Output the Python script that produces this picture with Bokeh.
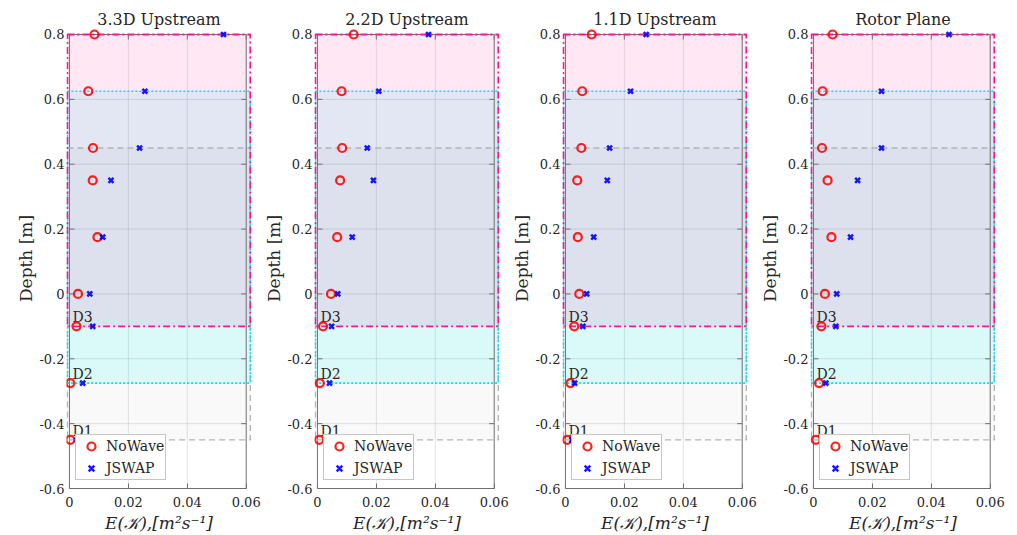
from bokeh.plotting import figure
from bokeh.layouts import row
from bokeh.models import ColumnDataSource, Range1d, LinearAxis, FixedTicker, Legend, LegendItem, Grid
from bokeh.core.properties import value
from bokeh.embed import file_html
from bokeh.resources import INLINE

# ---------------- data ----------------
titles = ["3.3D Upstream", "2.2D Upstream", "1.1D Upstream", "Rotor Plane"]
depth = [0.8, 0.625, 0.45, 0.35, 0.175, 0.0, -0.1, -0.275, -0.45]

nowave_33 = [0.0085, 0.0064, 0.0080, 0.0079, 0.0095, 0.0029, 0.0024, 0.0003, 0.0003]
jswap_33 = [0.0523, 0.0256, 0.0238, 0.0141, 0.0113, 0.0069, 0.0079, 0.0045, 0.0026]
nowave_22 = [0.0123, 0.0082, 0.0084, 0.0077, 0.0067, 0.0046, 0.0019, 0.0008, 0.0006]
jswap_22 = [0.0377, 0.0208, 0.0169, 0.0190, 0.0118, 0.0069, 0.0048, 0.0041, 0.0032]
nowave_11 = [0.0089, 0.0057, 0.0054, 0.0040, 0.0042, 0.0047, 0.0030, 0.0017, 0.0006]
jswap_11 = [0.0274, 0.0221, 0.0150, 0.0142, 0.0096, 0.0072, 0.0059, 0.0031, 0.0022]
nowave_rp = [0.0065, 0.0031, 0.0029, 0.0048, 0.0061, 0.0039, 0.0027, 0.0019, 0.0008]
jswap_rp = [0.0460, 0.0231, 0.0231, 0.0150, 0.0126, 0.0079, 0.0076, 0.0042, 0.0034]

zone_names = ["D3", "D2", "D1"]
zone_bottom = [-0.1, -0.275, -0.45]
zone_top = [0.8, 0.625, 0.45]

x_ticks = [0, 0.02, 0.04, 0.06]
x_tick_labels = ["0", "0.02", "0.04", "0.06"]
y_ticks = [-0.6, -0.4, -0.2, 0, 0.2, 0.4, 0.6, 0.8]
y_tick_labels = ["-0.6", "-0.4", "-0.2", "0", "0.2", "0.4", "0.6", "0.8"]

series_nowave = [nowave_33, nowave_22, nowave_11, nowave_rp]
series_jswap = [jswap_33, jswap_22, jswap_11, jswap_rp]

# ---------------- styles / layout ----------------
FONT = "DejaVu Serif"
TXT = "#262626"
AX = "#707070"
zone_line_colors = ["#FF1493", "#00E5EE", "#B4B4B4"]
zone_fill_colors = ["#FF1493", "#00FFFF", "#808080"]
zone_fill_alpha = [0.1, 0.12, 0.05]
zone_dash = ["7 3 2 3", "2 2", "6 4"]
zone_width = [1.8, 1.6, 1.4]
ZX0, ZX1 = -0.0007, 0.0614

FW, FH = 185, 460
XR = (-0.001, 0.0618)
YR = (-0.6, 0.8185)
TICK = 5  # px
tx = TICK * (XR[1] - XR[0]) / FW
ty = TICK * (YR[1] - YR[0]) / FH
borders_left = [66, 53, 53, 53]
borders_right = [10, 10, 10, 12]


def make_panel(i):
    p = figure(frame_width=FW, frame_height=FH,
               x_range=Range1d(*XR), y_range=Range1d(*YR),
               output_backend="svg", toolbar_location=None,
               title=titles[i], x_axis_location=None, y_axis_location=None,
               min_border_left=borders_left[i], min_border_right=borders_right[i],
               min_border_top=28, min_border_bottom=47)
    p.center = [r for r in p.center if not isinstance(r, Grid)]
    p.outline_line_color = None
    p.background_fill_color = "white"
    p.border_fill_color = "white"
    p.title.text_font = FONT
    p.title.text_font_style = "normal"
    p.title.text_font_size = "16px"
    p.title.text_color = TXT
    p.title.align = "center"
    p.title.standoff = 0

    x0, x1 = x_ticks[0], x_ticks[-1]
    y0, y1 = y_ticks[0], y_ticks[-1]

    left = LinearAxis(ticker=FixedTicker(ticks=y_ticks),
                      major_label_overrides=dict(zip(y_ticks, y_tick_labels)),
                      axis_label="Depth [m]")
    left.axis_line_color = None
    left.major_tick_line_color = None
    left.minor_tick_line_color = None
    left.major_tick_in = 0
    left.major_tick_out = 0
    left.major_label_standoff = 2
    left.major_label_text_font = FONT
    left.major_label_text_font_size = "13px"
    left.major_label_text_color = TXT
    left.axis_label_text_font = FONT
    left.axis_label_text_font_style = "normal"
    left.axis_label_text_font_size = "17px"
    left.axis_label_text_color = TXT
    left.axis_label_standoff = 0
    p.add_layout(left, "left")

    below = LinearAxis(ticker=FixedTicker(ticks=x_ticks), bounds=(x0, x1),
                       major_label_overrides=dict(zip(x_ticks, x_tick_labels)),
                       axis_label="E(\U0001D4A6),[m\u00b2s\u207b\u00b9]")
    below.axis_line_color = AX
    below.major_tick_line_color = AX
    below.minor_tick_line_color = None
    below.major_tick_in = TICK
    below.major_tick_out = 0
    below.major_label_standoff = 8
    below.major_label_text_font = FONT
    below.major_label_text_font_size = "13px"
    below.major_label_text_color = TXT
    below.axis_label_text_font = FONT
    below.axis_label_text_font_style = "italic"
    below.axis_label_text_font_size = "17px"
    below.axis_label_text_color = TXT
    below.axis_label_standoff = 3
    p.add_layout(below, "below")

    # zone fills
    order = [2, 1, 0]
    for k in order:
        p.quad(left=[ZX0], right=[ZX1], bottom=[zone_bottom[k]], top=[zone_top[k]],
               fill_color=zone_fill_colors[k], fill_alpha=zone_fill_alpha[k], line_color=None)

    # grid
    gx = x_ticks[1:-1]
    p.segment(x0=gx, x1=gx, y0=[y0] * len(gx), y1=[y1] * len(gx),
              line_color="#262626", line_alpha=0.12, line_width=1)
    gy = y_ticks[1:-1]
    p.segment(x0=[x0] * len(gy), x1=[x1] * len(gy), y0=gy, y1=gy,
              line_color="#262626", line_alpha=0.12, line_width=1)

    # axes box and inward ticks (left, right, top)
    p.quad(left=[x0], right=[x1], bottom=[y0], top=[y1], fill_color=None,
           line_color=AX, line_width=1)
    p.segment(x0=[x0] * len(y_ticks), x1=[x0 + tx] * len(y_ticks), y0=y_ticks, y1=y_ticks,
              line_color=AX, line_width=1)
    p.segment(x0=[x1 - tx] * len(y_ticks), x1=[x1] * len(y_ticks), y0=y_ticks, y1=y_ticks,
              line_color=AX, line_width=1)
    p.segment(x0=x_ticks, x1=x_ticks, y0=[y1 - ty] * len(x_ticks), y1=[y1] * len(x_ticks),
              line_color=AX, line_width=1)

    # zone outlines
    for k in order:
        p.quad(left=[ZX0], right=[ZX1], bottom=[zone_bottom[k]], top=[zone_top[k]],
               fill_color=None, line_color=zone_line_colors[k], line_dash=zone_dash[k],
               line_width=zone_width[k])

    # zone labels
    p.text(x=[x0] * len(zone_names), y=zone_bottom, text=zone_names,
           x_offset=3, y_offset=-9, text_baseline="alphabetic", text_align="left",
           text_font=value(FONT), text_font_size="14px", text_color=TXT)

    src = ColumnDataSource(dict(depth=depth, nowave=series_nowave[i], jswap=series_jswap[i]))
    r1 = p.scatter("nowave", "depth", source=src, marker="circle", size=8,
                   fill_color=None, line_color="red", line_alpha=0.88, line_width=2.2)
    r2 = p.scatter("jswap", "depth", source=src, marker="x", size=7,
                   line_color="blue", line_alpha=0.9, line_width=2.5)

    legend = Legend(items=[LegendItem(label="NoWave", renderers=[r1]),
                           LegendItem(label="JSWAP", renderers=[r2])],
                    location=(9, 8), padding=1, spacing=2, margin=0,
                    glyph_width=28, glyph_height=20, label_height=20, label_standoff=1,
                    label_text_font=FONT, label_text_font_size="14px", label_text_color=TXT,
                    border_line_color="#8c8c8c", border_line_width=1,
                    background_fill_color="white", background_fill_alpha=1)
    p.add_layout(legend, "center")
    return p


panels = [make_panel(i) for i in range(4)]
layout = row(*panels)
open("out.html", "w").write(file_html(layout, INLINE))
